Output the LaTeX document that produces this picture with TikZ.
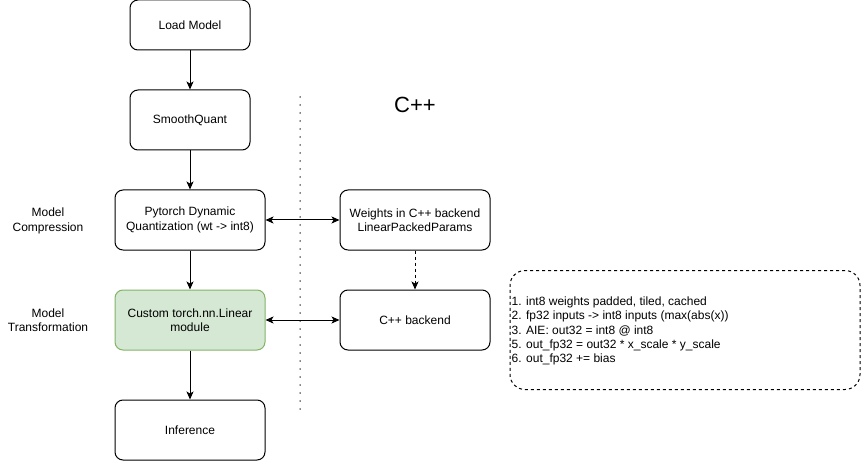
\documentclass[tikz,border=0pt]{standalone}
\usepackage{fontspec}
\setmainfont{Liberation Sans}
\usetikzlibrary{arrows.meta}
\definecolor{boxgreen}{HTML}{D5E8D4}
\definecolor{boxgreenline}{HTML}{82B366}
\tikzset{
  box/.style={draw, line width=1pt, rounded corners=8pt, minimum width=120pt, minimum height=50pt, align=center, inner sep=2pt},
  widebox/.style={box, minimum width=150pt, minimum height=60pt},
  notebox/.style={draw, line width=1pt, dash pattern=on 3pt off 3pt, rounded corners=15pt, minimum width=350pt, minimum height=119pt},
}
\begin{document}
\begin{tikzpicture}[x=1pt, y=-1pt, >={Stealth[length=8pt, width=7pt, inset=2pt]}, font=\fontsize{12}{14.3}\selectfont, line join=round]
	\useasboundingbox (0,0) rectangle (861,462);
	% main flow
	\node[box] (load) at (190,25) {Load Model};
	\node[box, minimum height=60pt] (sq) at (190,120) {SmoothQuant};
	\node[widebox] (pdq) at (190,220) {Pytorch Dynamic\\Quantization (wt -> int8)};
	\node[widebox, fill=boxgreen, draw=boxgreenline] (custom) at (190,320) {Custom torch.nn.Linear\\module};
	\node[widebox] (infer) at (190,430) {Inference};
	% C++ side
	\node[widebox] (wts) at (415,220) {Weights in C++ backend\\LinearPackedParams};
	\node[widebox] (backend) at (415,320) {C++ backend};
	\node (cpp) at (415,105) {\fontsize{22}{26}\selectfont C++};
	% stage labels
	\node[align=center] (comp) at (48,221) {Model\\Compression};
	\node[align=center] (trans) at (48,320) {Model\\Transformation};
	% notes
	\node[notebox] (noteframe) at (685,330) {};
	\node[anchor=west, align=left, inner sep=0pt] (notes) at ([xshift=2pt, yshift=-1pt]noteframe.west) {1. int8 weights padded, tiled, cached\\2. fp32 inputs -> int8 inputs (max(abs(x))\\3. AIE: out32 = int8 @ int8\\5. out\_fp32 = out32 * x\_scale * y\_scale\\6. out\_fp32 += bias};
	% divider
	\coordinate (divtop) at (300,97);
	\coordinate (divbot) at (300,410);
	\draw[line width=1.5pt, line cap=round, dash pattern=on 0pt off 8pt] (divtop) -- (divbot);
	% connectors
	\draw[->, line width=1pt] (load) -- (sq);
	\draw[->, line width=1pt] (sq) -- (pdq);
	\draw[->, line width=1pt] (pdq) -- (custom);
	\draw[->, line width=1pt] (custom) -- (infer);
	\draw[<->, line width=1pt] (pdq) -- (wts);
	\draw[<->, line width=1pt] (custom) -- (backend);
	\draw[->, line width=1pt, dash pattern=on 3pt off 3pt] (wts) -- (backend);
\end{tikzpicture}
\end{document}
